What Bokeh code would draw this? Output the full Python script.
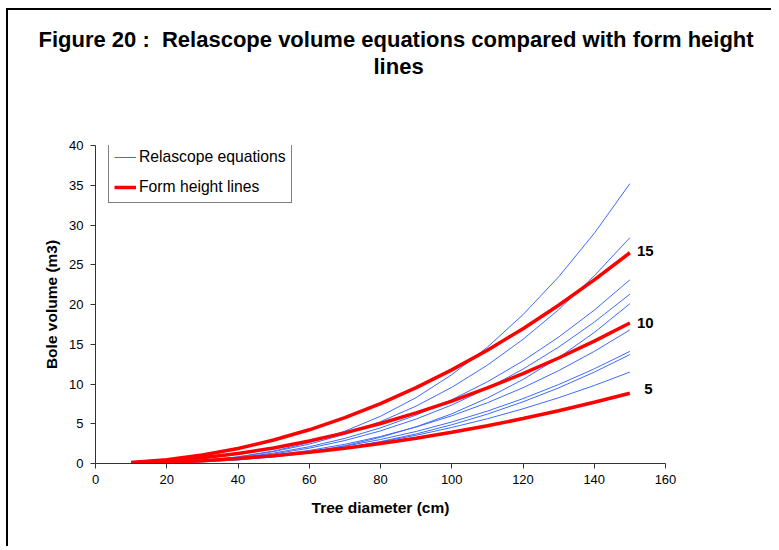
from bokeh.plotting import figure
from bokeh.models import Range1d, Label, Legend, LegendItem, FixedTicker, Title
from bokeh.embed import file_html
from bokeh.resources import INLINE

# ---- data ----
diam = [10, 20, 30, 40, 50, 60, 70, 80, 90, 100, 110, 120, 130, 140, 150]

# form height lines (m3)
fh5 = [0.04, 0.16, 0.35, 0.63, 0.98, 1.41, 1.92, 2.51, 3.18, 3.93, 4.75, 5.65, 6.64, 7.70, 8.84]
fh10 = [0.08, 0.31, 0.71, 1.26, 1.96, 2.83, 3.85, 5.03, 6.36, 7.85, 9.50, 11.31, 13.27, 15.39, 17.67]
fh15 = [0.12, 0.47, 1.06, 1.88, 2.95, 4.24, 5.77, 7.54, 9.54, 11.78, 14.25, 16.96, 19.91, 23.09, 26.51]
fh_labels = ["5", "10", "15"]

# relascope volume equations (m3)
rel_a = [0.02, 0.12, 0.37, 0.84, 1.57, 2.63, 4.07, 5.94, 8.29, 11.17, 14.63, 18.72, 23.48, 28.95, 35.2]
rel_b = [0.02, 0.13, 0.38, 0.82, 1.50, 2.44, 3.68, 5.27, 7.22, 9.58, 12.37, 15.62, 19.35, 23.61, 28.4]
rel_c = [0.02, 0.12, 0.35, 0.73, 1.31, 2.11, 3.16, 4.48, 6.09, 8.02, 10.28, 12.90, 15.90, 19.29, 23.1]
rel_d = [0.02, 0.11, 0.31, 0.67, 1.20, 1.93, 2.89, 4.10, 5.59, 7.36, 9.45, 11.87, 14.64, 17.78, 21.3]
rel_e = [0.01, 0.06, 0.20, 0.45, 0.85, 1.44, 2.24, 3.29, 4.62, 6.25, 8.23, 10.57, 13.31, 16.48, 20.1]
rel_f = [0.02, 0.10, 0.28, 0.59, 1.03, 1.64, 2.42, 3.40, 4.59, 6.00, 7.64, 9.53, 11.68, 14.10, 16.8]
rel_g = [0.02, 0.10, 0.27, 0.55, 0.96, 1.49, 2.18, 3.02, 4.03, 5.22, 6.59, 8.16, 9.93, 11.91, 14.1]
rel_h = [0.01, 0.08, 0.23, 0.47, 0.83, 1.32, 1.96, 2.76, 3.72, 4.87, 6.21, 7.76, 9.51, 11.49, 13.7]
rel_i = [0.02, 0.11, 0.28, 0.55, 0.92, 1.40, 1.99, 2.71, 3.55, 4.53, 5.63, 6.88, 8.27, 9.81, 11.5]

x_ticks = [0, 20, 40, 60, 80, 100, 120, 140, 160]
y_ticks = [0, 5, 10, 15, 20, 25, 30, 35, 40]

BLUE = "#3D6BFF"
RED = "#FF0000"
FONT = "Liberation Sans"

p = figure(width=765, height=538, output_backend="svg", toolbar_location=None,
           x_range=Range1d(0, 160), y_range=Range1d(0, 40),
           min_border_left=87, min_border_right=108, min_border_top=135, min_border_bottom=85)
p.styles = {"margin-left": "6px", "margin-top": "8px",
            "border-top": "2px solid #000", "border-left": "2px solid #000"}
p.outline_line_color = None
p.xgrid.visible = False
p.ygrid.visible = False
p.background_fill_color = "white"
p.border_fill_color = "white"

blue_renderers = []
for ys in [rel_a, rel_b, rel_c, rel_d, rel_e, rel_f, rel_g, rel_h, rel_i]:
    r = p.line(diam, ys, line_color=BLUE, line_width=1)
    blue_renderers.append(r)

red_renderers = []
for ys in [fh5, fh10, fh15]:
    r = p.line(diam, ys, line_color=RED, line_width=3.5)
    red_renderers.append(r)

# end labels for form height lines
for lab, ys, xo, dy in zip(fh_labels, [fh5, fh10, fh15], [154.0, 152.0, 152.0], [0.5, 0.05, 0.2]):
    p.add_layout(Label(x=xo, y=ys[-1] + dy, text=lab, text_font=FONT, text_font_style="bold",
                       text_font_size="15px", text_color="black", text_baseline="middle",
                       text_align="left"))

# axes
for ax in (p.xaxis[0], p.yaxis[0]):
    ax.axis_line_color = "#333333"
    ax.major_tick_line_color = "#333333"
    ax.minor_tick_line_color = None
    ax.major_tick_out = 5
    ax.major_tick_in = 0
    ax.major_label_text_font = FONT
    ax.major_label_text_font_size = "13px"
    ax.major_label_text_color = "black"
    ax.axis_label_text_font = FONT
    ax.axis_label_text_font_style = "bold"
    ax.axis_label_text_font_size = "15.5px"
    ax.axis_label_text_color = "black"

p.xaxis[0].ticker = FixedTicker(ticks=x_ticks)
p.yaxis[0].ticker = FixedTicker(ticks=y_ticks)
p.xaxis[0].axis_label = "Tree diameter (cm)"
p.yaxis[0].axis_label = "Bole volume (m3)"
p.xaxis[0].major_label_standoff = 6
p.yaxis[0].major_label_standoff = 7
p.xaxis[0].axis_label_standoff = 12
p.yaxis[0].axis_label_standoff = 6

# legend
legend = Legend(items=[LegendItem(label="Relascope equations", renderers=[blue_renderers[0]]),
                       LegendItem(label="Form height lines", renderers=[red_renderers[0]])],
                location=(13, 260))
legend.border_line_color = "black"
legend.border_line_width = 1
legend.background_fill_alpha = 1
legend.label_text_font = FONT
legend.label_text_font_size = "15.7px"
legend.label_text_color = "black"
legend.glyph_width = 22
legend.glyph_height = 20
legend.label_height = 20
legend.label_standoff = 3
legend.spacing = 10
legend.padding = 5
legend.margin = 0
p.add_layout(legend)

# title (two lines) stacked above the plot, with an empty spacer next to the frame
p.title.visible = False
p.add_layout(Title(text="\u200b", standoff=40, text_font=FONT, text_font_size="22px",
                   text_color="white"), "above")
p.add_layout(Title(text="lines", align="left", offset=278, standoff=0, text_font=FONT,
                   text_font_style="bold", text_font_size="22px", text_color="black"), "above")
p.add_layout(Title(text="Figure 20 :\u00a0 Relascope volume equations compared with form height",
                   align="left", offset=-57, standoff=0, text_font=FONT, text_font_style="bold",
                   text_font_size="22px", text_color="black"), "above")

open("out.html", "w").write(file_html(p, INLINE))
